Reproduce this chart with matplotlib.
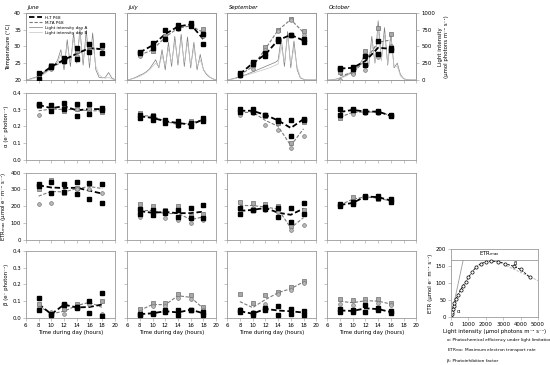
import numpy as np
import matplotlib.pyplot as plt
from matplotlib.lines import Line2D

months = ['June', 'July', 'September', 'October']
hours = [8, 10, 12, 14, 16, 18]
light_t = np.arange(6, 20.01, 0.5)

# temperature (C): two replicates per treatment, one list per month
temp_ht1 = [[22.2, 24.1, 26.5, 29.4, 30.6, 30.3], [28.4, 31.1, 35.0, 36.4, 36.9, 30.6],
            [22.0, 25.3, 27.2, 32.1, 33.5, 32.1], [23.6, 23.4, 27.0, 31.6, 28.9]]
temp_ht2 = [[20.3, 23.8, 25.5, 26.3, 28.4, 28.0], [28.0, 29.5, 32.3, 35.4, 36.2, 33.6],
            [21.5, 24.6, 28.0, 31.6, 33.3, 31.4], [23.2, 23.8, 24.3, 27.6, 29.6]]
temp_mt1 = [[21.8, 24.3, 26.0, 28.5, 30.0, 29.8], [27.6, 28.7, 33.0, 35.6, 36.2, 35.3],
            [21.8, 24.5, 29.7, 35.0, 38.2, 34.7], [22.5, 22.5, 28.7, 35.6, 33.7]]
temp_mt2 = [[20.8, 23.2, 25.2, 27.0, 28.6, 28.4], [27.2, 29.2, 32.5, 35.2, 36.0, 33.0],
            [21.2, 23.4, 28.8, 34.6, 37.8, 33.5], [20.0, 21.8, 23.0, 26.8, 30.1]]

# light intensity, half-hourly from 6 to 20 h
light_a = [[0, 10, 25, 40, 60, 80, 110, 140, 180, 220, 300, 450, 150, 600, 200, 700, 250, 760, 220, 740, 180, 700, 150, 40, 30, 40, 110, 30, 5],
           [0, 10, 25, 45, 70, 90, 120, 160, 230, 300, 180, 450, 150, 560, 200, 650, 220, 680, 200, 640, 180, 560, 150, 380, 150, 80, 40, 15, 0],
           [0, 10, 20, 35, 50, 65, 80, 100, 120, 140, 160, 180, 200, 220, 240, 260, 290, 620, 200, 720, 180, 580, 150, 30, 10, 0, 0, 0, 0],
           [0, 0, 5, 15, 30, 50, 70, 100, 130, 170, 220, 300, 420, 200, 650, 250, 880, 300, 780, 220, 700, 180, 250, 80, 20, 5, 0, 0, 0]]
light_b = [[0, 5, 15, 30, 50, 70, 95, 130, 170, 210, 260, 380, 220, 520, 260, 620, 300, 680, 280, 600, 250, 560, 200, 80, 40, 25, 40, 15, 0],
           [0, 8, 20, 35, 55, 80, 110, 150, 200, 250, 200, 360, 220, 470, 250, 560, 280, 600, 260, 560, 220, 480, 200, 300, 160, 90, 45, 15, 0],
           [0, 5, 15, 25, 40, 55, 70, 85, 100, 115, 130, 145, 160, 175, 195, 215, 240, 500, 260, 650, 240, 480, 200, 40, 10, 0, 0, 0, 0],
           [0, 0, 3, 10, 25, 40, 60, 85, 115, 150, 200, 260, 380, 220, 560, 260, 760, 280, 680, 240, 600, 200, 200, 60, 15, 3, 0, 0, 0]]

# alpha
alpha_ht1 = [[0.33, 0.325, 0.34, 0.33, 0.33, 0.31], [0.27, 0.26, 0.24, 0.23, 0.22, 0.25],
             [0.30, 0.30, 0.27, 0.24, 0.24, 0.245], [0.30, 0.295, 0.29, 0.29, 0.265]]
alpha_ht2 = [[0.325, 0.29, 0.30, 0.26, 0.275, 0.295], [0.25, 0.24, 0.22, 0.21, 0.20, 0.23],
             [0.285, 0.285, 0.265, 0.23, 0.14, 0.24], [0.27, 0.30, 0.285, 0.285, 0.26]]
alpha_mt1 = [[0.32, 0.30, 0.29, 0.30, 0.30, 0.285], [0.28, 0.27, 0.24, 0.22, 0.23, 0.25],
             [0.29, 0.29, 0.26, 0.22, 0.10, 0.225], [0.25, 0.29, 0.29, 0.29, 0.27]]
alpha_mt2 = [[0.265, 0.305, 0.31, 0.30, 0.285, 0.30], [0.25, 0.25, 0.22, 0.20, 0.21, 0.23],
             [0.27, 0.28, 0.21, 0.18, 0.07, 0.145], [0.26, 0.275, 0.28, 0.28, 0.26]]

# ETRmax
etr_ht1 = [[331, 278, 335, 345, 340, 220], [185, 176, 162, 137, 191, 205],
           [189, 176, 195, 133, 191, 220], [215, 224, 263, 260, 244]]
etr_ht2 = [[318, 345, 282, 275, 245, 330], [156, 146, 170, 180, 127, 131],
           [156, 180, 185, 190, 107, 152], [200, 215, 254, 248, 224]]
etr_mt1 = [[305, 357, 280, 310, 335, 330], [211, 199, 180, 199, 140, 156],
           [228, 218, 215, 199, 82, 176], [205, 254, 254, 244, 234]]
etr_mt2 = [[215, 220, 290, 300, 300, 280], [137, 150, 131, 117, 101, 117],
           [180, 190, 176, 166, 59, 88], [210, 230, 258, 252, 228]]

# beta
beta_ht1 = [[0.121, 0.025, 0.083, 0.06, 0.03, 0.15], [0.02, 0.025, 0.035, 0.045, 0.048, 0.035],
            [0.035, 0.03, 0.048, 0.073, 0.054, 0.044], [0.054, 0.038, 0.079, 0.06, 0.04]]
beta_ht2 = [[0.045, 0.02, 0.075, 0.065, 0.1, 0.01], [0.025, 0.03, 0.045, 0.02, 0.05, 0.02],
            [0.045, 0.02, 0.06, 0.015, 0.025, 0.02], [0.035, 0.045, 0.035, 0.045, 0.03]]
beta_mt1 = [[0.083, 0.015, 0.054, 0.08, 0.1, 0.1], [0.055, 0.087, 0.087, 0.144, 0.135, 0.067],
            [0.14, 0.088, 0.135, 0.156, 0.183, 0.22], [0.115, 0.106, 0.11, 0.11, 0.09]]
beta_mt2 = [[0.06, 0.035, 0.025, 0.068, 0.085, 0.025], [0.035, 0.073, 0.07, 0.12, 0.11, 0.045],
            [0.054, 0.035, 0.083, 0.144, 0.165, 0.21], [0.083, 0.075, 0.095, 0.09, 0.075]]

# example P-E curve
pe_light = [0, 30, 60, 100, 150, 200, 300, 400, 550, 700, 850, 1000, 1200, 1450, 1700,
            2000, 2300, 2700, 3100, 3600, 4000, 4550]
pe_etr = [0, 8, 15, 24, 34, 42, 55, 66, 80, 93, 105, 117, 132, 148, 157,
          163, 165, 164, 158, 150, 141, 117]
pe_etrmax = 167
pe_alpha = 0.24
pe_beta_x = [2600, 5000]
pe_beta_y = [166, 108]

FS = 3.9
SP = '#9a9a9a'


def style(ax):
    for s in ax.spines.values():
        s.set_color(SP)
        s.set_linewidth(0.6)
    ax.tick_params(direction='out', length=2, width=0.4, color=SP, labelsize=FS, pad=1.5)


def draw(ax, h1, h2, m1, m2):
    t = hours[:len(h1)]
    ax.plot(t, np.mean([m1, m2], 0), color='#7a7a7a', lw=0.8, ls=(0, (3, 1.5)), zorder=2)
    ax.plot(t, np.mean([h1, h2], 0), color='k', lw=1.3, ls=(0, (3, 1.5)), zorder=2)
    ax.plot(t, m1, 's', color='#a8a8a8', mec='#6e6e6e', ms=2.9, mew=0.5, zorder=3)
    ax.plot(t, m2, 'o', color='#b8b8b8', mec='#7a7a7a', ms=2.7, mew=0.5, zorder=3)
    ax.plot(t, h1, 's', color='k', ms=3.1, zorder=4)
    ax.plot(t, h2, 's', color='k', ms=3.1, zorder=4)


fig = plt.figure(figsize=(5.5, 3.65), dpi=100)
lefts = [0.047, 0.231, 0.413, 0.595]
bottoms = [0.781, 0.562, 0.343, 0.129]
W, H = 0.162, 0.184

rows = [(temp_ht1, temp_ht2, temp_mt1, temp_mt2, (20, 40), [20, 25, 30, 35, 40], 'Temperature (°C)'),
        (alpha_ht1, alpha_ht2, alpha_mt1, alpha_mt2, (0, 0.4), [0, 0.1, 0.2, 0.3, 0.4], 'α (e⁻ photon⁻¹)'),
        (etr_ht1, etr_ht2, etr_mt1, etr_mt2, (0, 400), [0, 100, 200, 300, 400], 'ETR$_{max}$ (μmol e⁻ m⁻² s⁻¹)'),
        (beta_ht1, beta_ht2, beta_mt1, beta_mt2, (0, 0.4), [0, 0.1, 0.2, 0.3, 0.4], 'β (e⁻ photon⁻¹)')]
fmts = ['{:.0f}', '{:.1f}', '{:.0f}', '{:.1f}']

for r, (h1, h2, m1, m2, ylim, yt, ylab) in enumerate(rows):
    for c in range(4):
        ax = fig.add_axes([lefts[c], bottoms[r], W, H])
        if r == 0:
            tw = ax.twinx()
            tw.plot(light_t, light_a[c], color='#7d7d7d', lw=0.5)
            tw.plot(light_t, light_b[c], color='#c4c4c4', lw=0.5)
            tw.set_ylim(0, 1000)
            tw.set_yticks([0, 250, 500, 750, 1000])
            style(tw)
            if c == 3:
                tw.set_ylabel('Light intensity\n(μmol photons m⁻² s⁻¹)', fontsize=FS, labelpad=2)
            else:
                tw.tick_params(right=False, labelright=False)
            ax.set_zorder(tw.get_zorder() + 1)
            ax.patch.set_visible(False)
            ax.text(0.02, 1.04, months[c], transform=ax.transAxes, fontsize=FS,
                    style='italic', va='bottom')
        draw(ax, h1[c], h2[c], m1[c], m2[c])
        ax.set_xlim(6, 20)
        ax.set_xticks(range(6, 21, 2))
        ax.set_ylim(*ylim)
        ax.set_yticks(yt)
        style(ax)
        if c == 0:
            ax.set_yticklabels([fmts[r].format(v) for v in yt])
            ax.set_ylabel(ylab, fontsize=FS, labelpad=2)
        else:
            ax.set_yticklabels([])
        if r == 3:
            ax.set_xlabel('Time during day (hours)', fontsize=FS, labelpad=1.5)
        else:
            ax.set_xticklabels([])
        if r == 0 and c == 0:
            handles = [Line2D([], [], color='k', lw=1.3, ls=(0, (3, 1.5))),
                       Line2D([], [], color='#7a7a7a', lw=0.8, ls=(0, (3, 1.5))),
                       Line2D([], [], color='#7d7d7d', lw=0.5),
                       Line2D([], [], color='#c4c4c4', lw=0.5)]
            ax.legend(handles, ['H-T P68', 'M-TA P68', 'Light intensity day A', 'Light intensity day B'],
                      loc='upper left', fontsize=3.0, frameon=False, handlelength=3.2,
                      labelspacing=0.25, borderaxespad=0.3)

# P-E curve panel
ax = fig.add_axes([0.82, 0.131, 0.158, 0.186])
ax.axhline(pe_etrmax, color='#9a9a9a', lw=0.6)
ax.plot([0, pe_etrmax / pe_alpha], [0, pe_etrmax], color='#9a9a9a', lw=0.6)
ax.plot(pe_beta_x, pe_beta_y, color='#b0b0b0', lw=0.6, ls=(0, (3, 1.5)))
ax.plot(pe_light, pe_etr, color='k', lw=0.6, ls=(0, (3, 1.5)), marker='o', ms=2.3,
        mfc='white', mec='k', mew=0.5)
ax.text(2200, 175, 'ETR$_{max}$', fontsize=FS, ha='center', va='bottom')
ax.text(3700, 150, 'β', fontsize=FS, ha='center', va='bottom')
ax.text(350, 8, 'α', fontsize=FS, ha='left', va='bottom')
ax.set_xlim(0, 5000)
ax.set_ylim(0, 200)
ax.set_xticks(range(0, 5001, 1000))
ax.set_yticks([0, 50, 100, 150, 200])
style(ax)
ax.set_xlabel('Light intensity (μmol photons m⁻² s⁻¹)', fontsize=FS, labelpad=1.5)
ax.set_ylabel('ETR (μmol e⁻ m⁻² s⁻¹)', fontsize=FS, labelpad=2)

notes = ['α: Photochemical efficiency under light limitation',
         'ETR$_{max}$: Maximum electron transport rate',
         'β: Photoinhibition factor']
for i, s in enumerate(notes):
    fig.text(0.812, 0.068 - i * 0.028, s, fontsize=3.1, va='center')

fig.savefig('out.png', dpi=100)
